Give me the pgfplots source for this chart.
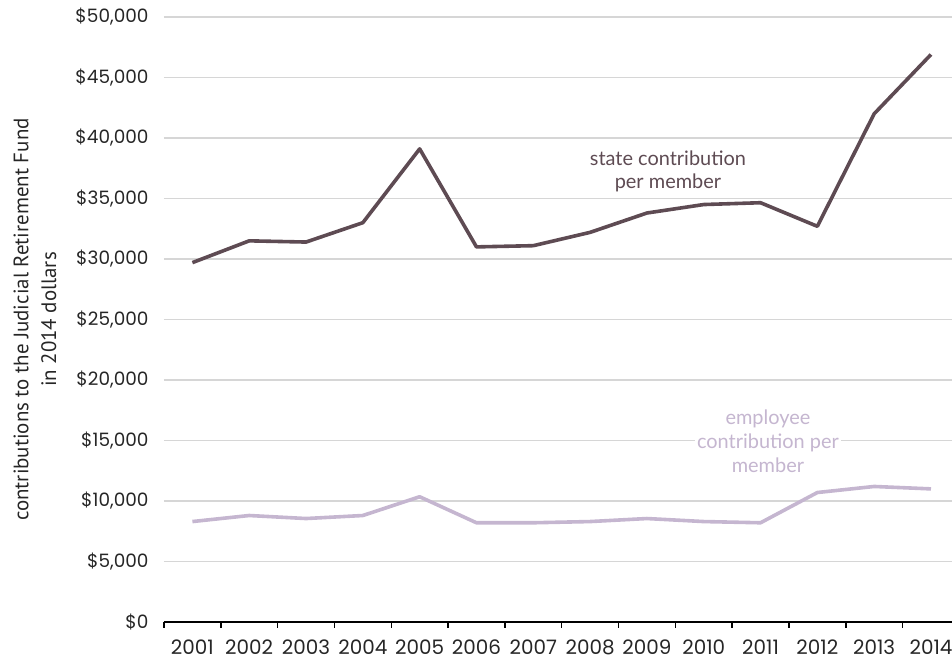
\documentclass[border=0pt]{standalone}
\usepackage{pgfplots}
\pgfplotsset{compat=1.18}
\usepackage{fontspec}
\setmainfont{Poppins}
\newfontfamily\labfont{PT Sans}
\newfontfamily\annfont{Lato}
\definecolor{statec}{HTML}{5E4B53}
\definecolor{empc}{HTML}{C5B6D0}
\definecolor{gridc}{HTML}{D6D6D6}
\begin{document}
\begin{tikzpicture}
\begin{axis}[
  scale only axis, width=788bp, height=605bp,
  xmin=0.5, xmax=14.37, ymin=0, ymax=50000,
  axis x line*=bottom, axis y line*=left,
  y axis line style={draw=none},
  x axis line style={black, line width=1.8bp, -},
  xtick={1,...,14},
  xticklabels={2001,2002,2003,2004,2005,2006,2007,2008,2009,2010,2011,2012,2013,2014},
  minor xtick={0.5,1.5,...,13.5},
  x tick style={black, line width=1.5bp},
  major tick length=0pt, minor tick length=6bp, tick align=outside,
  xticklabel style={yshift=-14bp, font=\fontsize{20}{22}\selectfont},
  ytick={0,5000,...,50000},
  y tick style={draw=none},
  ymajorgrids, grid style={gridc, line width=1.2bp},
  scaled y ticks=false,
  /pgf/number format/assume math mode=true,
  /pgf/number format/1000 sep={,},
  yticklabel={\$\pgfmathprintnumber{\tick}},
  yticklabel style={xshift=-12bp, font=\fontsize{18.5}{21}\selectfont},
  tick label style={text=black!85},
  ylabel={contributions to the Judicial Retirement Fund\\in 2014 dollars},
  every axis y label/.style={at={(axis description cs:-0.1637,0.5)}, rotate=90, anchor=center, align=center, font=\labfont\fontsize{21}{28}\selectfont, text=black!85},
  clip=false,
]
\coordinate (ll) at (rel axis cs:0,0);
\coordinate (ur) at (rel axis cs:1,1);
\addplot[statec, line width=3.6bp, line join=round] coordinates {
  (1,29700) (2,31500) (3,31400) (4,33000) (5,39100) (6,31000) (7,31100)
  (8,32200) (9,33800) (10,34500) (11,34650) (12,32700) (13,42000) (14,46900)
};
\addplot[empc, line width=3.6bp, line join=round] coordinates {
  (1,8300) (2,8800) (3,8550) (4,8800) (5,10350) (6,8200) (7,8200)
  (8,8300) (9,8550) (10,8300) (11,8200) (12,10700) (13,11200) (14,11000)
};
\node[align=center, text=statec, font=\annfont\fontsize{20}{23}\selectfont] at (axis cs:9.37,37270) {state contribution\\per member};
\node[align=center, text=empc, fill=white, inner sep=2bp, font=\annfont\fontsize{20}{24}\selectfont] at (axis cs:11.13,14960) {employee\\contribution per\\member};
\end{axis}
\pgfresetboundingbox
\path[use as bounding box] ([shift={(-164bp,-38bp)}]ll) rectangle ([shift={(0bp,17bp)}]ur);
\end{tikzpicture}
\end{document}
